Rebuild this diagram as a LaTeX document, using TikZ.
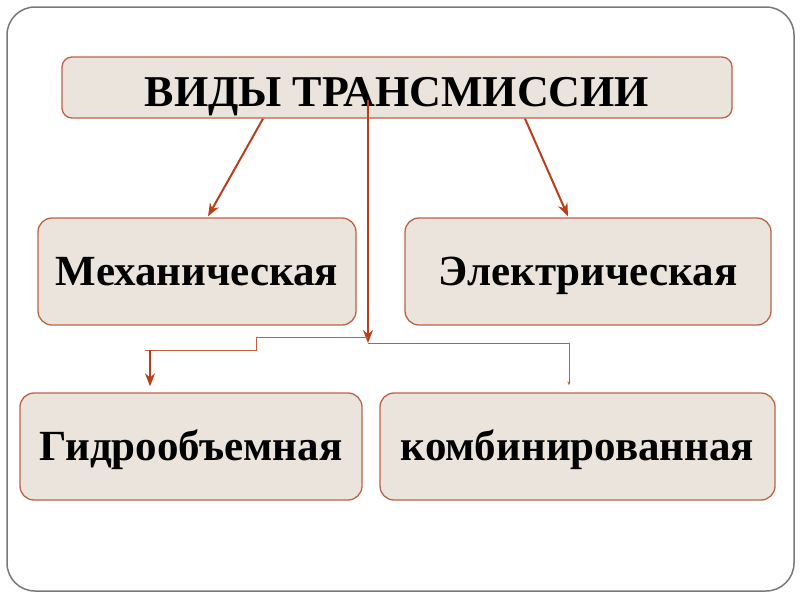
\documentclass[tikz,border=0pt]{standalone}
\usepackage{fontspec}
\setmainfont{Liberation Serif}
\usetikzlibrary{arrows.meta,calc,positioning}
\definecolor{trfill}{RGB}{234,228,221}
\definecolor{trborder}{RGB}{188,98,72}
\definecolor{trarrow}{RGB}{185,62,28}
\definecolor{trframe}{RGB}{120,120,120}

\begin{document}
\begin{tikzpicture}[x=1pt,y=-1pt,font=\fontsize{43}{46}\selectfont\bfseries,
    typebox/.style={draw=trborder,line width=1.3pt,fill=trfill,rounded corners=14pt,minimum height=107pt,inner sep=0pt,text height=28.5pt,text depth=0pt},
    branch/.style={draw=trarrow,line width=2pt,-{Stealth[length=13pt,width=10pt]}},
    thinbranch/.style={draw=trarrow!85,line width=0.8pt}]
        \useasboundingbox (0,0) rectangle (800,600);
        \draw[trframe,line width=1.5pt,rounded corners=28pt] (7,7) rectangle (794,591);
        \node[typebox,minimum width=670pt,minimum height=61pt,rounded corners=10pt,font=\fontsize{44}{46}\selectfont\bfseries,text height=38pt] (title) at (397,87.5) {ВИДЫ ТРАНСМИССИИ};
        \node[typebox,minimum width=318pt] (mech) at (197,271.5) {Механическая};
        \node[typebox,minimum width=366pt] (elec) at (588,271.5) {Электрическая};
        \node[typebox,minimum width=342pt] (hydro) at (191,446.5) {Гидрообъемная};
        \node[typebox,minimum width=395pt] (comb) at (577.5,446.5) {комбинированная};
        % junction points of the lower branches
        \coordinate (drop) at (368,100);
        \coordinate (hub) at (368,343);
        \coordinate (step) at (256,337);
        \coordinate (hydroin) at (150,350);
        \coordinate (combin) at (569,343);
        \draw[branch] ([xshift=-134pt]title.south) -- ([xshift=11pt,yshift=1pt]mech.north);
        \draw[branch] ([xshift=128pt]title.south) -- ([xshift=-20pt,yshift=1pt]elec.north);
        \draw[branch] (drop) -- (hub);
        \draw[thinbranch] (hub |- step) -- (step) -- (step |- hydroin) -- ([xshift=-5pt]hydroin);
        \draw[branch] (hydroin) -- ([xshift=-41pt,yshift=6pt]hydro.north);
        \draw[thinbranch,-{Stealth[length=4pt,width=3pt]}] (hub) -- (combin) -- ([yshift=7pt]comb.north -| combin);
      \end{tikzpicture}
\end{document}
